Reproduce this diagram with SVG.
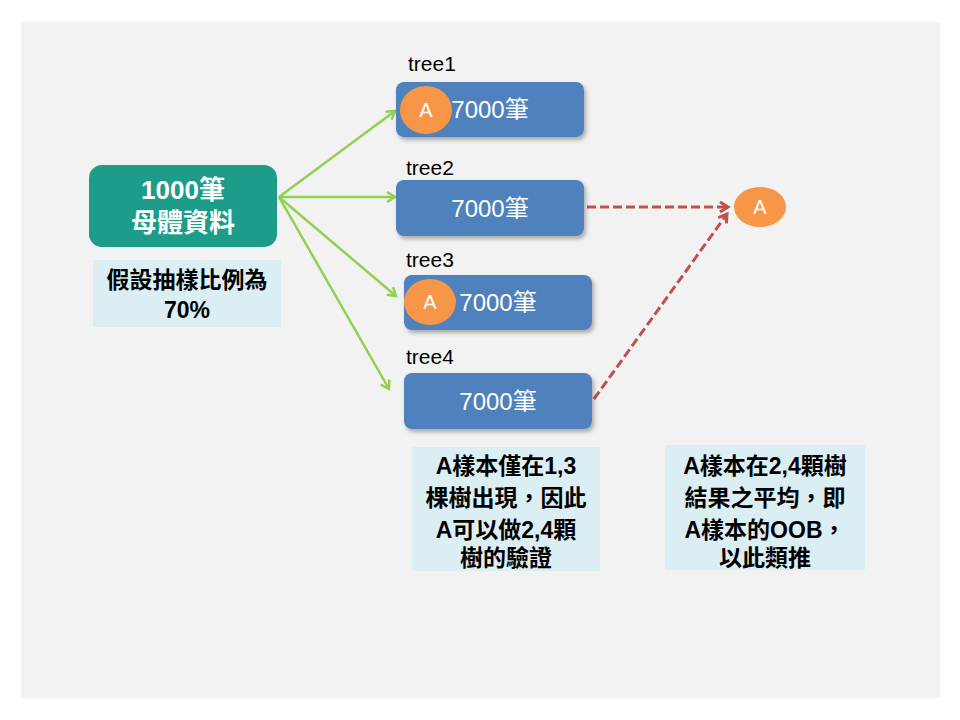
<svg xmlns="http://www.w3.org/2000/svg" width="960" height="720" viewBox="0 0 960 720">
<defs>
<style>
.t{font-family:"Liberation Sans","Noto Sans CJK TC",sans-serif;}
.tree{fill:#4f81bd;}
.lbl{font-size:21px;fill:#000;}
.num{font-size:24px;fill:#fff;text-anchor:middle;}
.oval{fill:#f79646;}
.a{font-size:20px;fill:#fff;text-anchor:middle;}
.note{fill:#dbeef4;}
.nt{font-size:23px;font-weight:bold;fill:#000;text-anchor:middle;}
.g{stroke:#92d050;stroke-width:2.5;fill:none;marker-end:url(#ga);}
.r{stroke:#c0504d;stroke-width:3;fill:none;stroke-dasharray:9,4;marker-end:url(#ra);}
</style>
<marker id="ga" markerWidth="12" markerHeight="12" refX="9" refY="6" orient="auto" markerUnits="userSpaceOnUse"><path d="M1,1 L9,6 L1,11" fill="none" stroke="#92d050" stroke-width="2.5"/></marker>
<marker id="ra" markerWidth="12" markerHeight="12" refX="9" refY="6" orient="auto" markerUnits="userSpaceOnUse"><path d="M1,1 L9,6 L1,11" fill="none" stroke="#c0504d" stroke-width="3"/></marker>
<filter id="sh" x="-10%" y="-20%" width="130%" height="150%"><feDropShadow dx="2" dy="3" stdDeviation="2" flood-color="#000" flood-opacity="0.3"/></filter>
</defs>
<rect width="960" height="720" fill="#fff"/>
<rect x="21" y="22" width="919" height="676" fill="#f2f2f2"/>
<g id="connectors">
<line class="g" x1="279" y1="197" x2="395" y2="111"/>
<line class="g" x1="279" y1="197" x2="395" y2="197"/>
<line class="g" x1="279" y1="197" x2="396" y2="296"/>
<line class="g" x1="279" y1="197" x2="389" y2="389"/>
<line class="r" x1="587" y1="207" x2="728" y2="207"/>
<line class="r" x1="594" y1="399" x2="727" y2="214"/>
</g>
<g id="root">
<rect x="89" y="165" width="188" height="82" rx="13" fill="#1d9c8a"/>
<text class="t" x="183" y="199" font-size="26" font-weight="bold" fill="#fff" text-anchor="middle">1000筆</text>
<text class="t" x="183" y="232" font-size="26" font-weight="bold" fill="#fff" text-anchor="middle">母體資料</text>
</g>
<g id="ratio">
<rect class="note" x="93" y="260" width="188" height="67"/>
<text class="t nt" x="187" y="288">假設抽樣比例為</text>
<text class="t nt" x="187" y="318">70%</text>
</g>
<g id="tree1">
<text class="t lbl" x="408" y="71">tree1</text>
<rect class="tree" x="396" y="82" width="188" height="55" rx="8" filter="url(#sh)"/>
<text class="t num" x="490" y="118">7000筆</text>
<ellipse class="oval" cx="426" cy="110" rx="26" ry="24"/>
<text class="t a" x="426" y="117">A</text>
</g>
<g id="tree2">
<text class="t lbl" x="406" y="175">tree2</text>
<rect class="tree" x="396" y="180" width="188" height="56" rx="8" filter="url(#sh)"/>
<text class="t num" x="490" y="217">7000筆</text>
</g>
<g id="tree3">
<text class="t lbl" x="406" y="267">tree3</text>
<rect class="tree" x="404" y="275" width="188" height="55" rx="8" filter="url(#sh)"/>
<text class="t num" x="498" y="311">7000筆</text>
<ellipse class="oval" cx="430" cy="302" rx="26" ry="23"/>
<text class="t a" x="430" y="309">A</text>
</g>
<g id="tree4">
<text class="t lbl" x="406" y="364">tree4</text>
<rect class="tree" x="404" y="373" width="188" height="56" rx="8" filter="url(#sh)"/>
<text class="t num" x="498" y="410">7000筆</text>
</g>
<g id="oobA">
<ellipse class="oval" cx="760" cy="207" rx="26" ry="20"/>
<text class="t a" x="760" y="214">A</text>
</g>
<g id="note1">
<rect class="note" x="412" y="447" width="188" height="124"/>
<text class="t nt" x="506" y="474">A樣本僅在1,3</text>
<text class="t nt" x="506" y="506">棵樹出現，因此</text>
<text class="t nt" x="506" y="538">A可以做2,4顆</text>
<text class="t nt" x="506" y="566">樹的驗證</text>
</g>
<g id="note2">
<rect class="note" x="665" y="445" width="200" height="125"/>
<text class="t nt" x="765" y="474">A樣本在2,4顆樹</text>
<text class="t nt" x="765" y="506">結果之平均，即</text>
<text class="t nt" x="765" y="538">A樣本的OOB，</text>
<text class="t nt" x="765" y="566">以此類推</text>
</g>
</svg>
